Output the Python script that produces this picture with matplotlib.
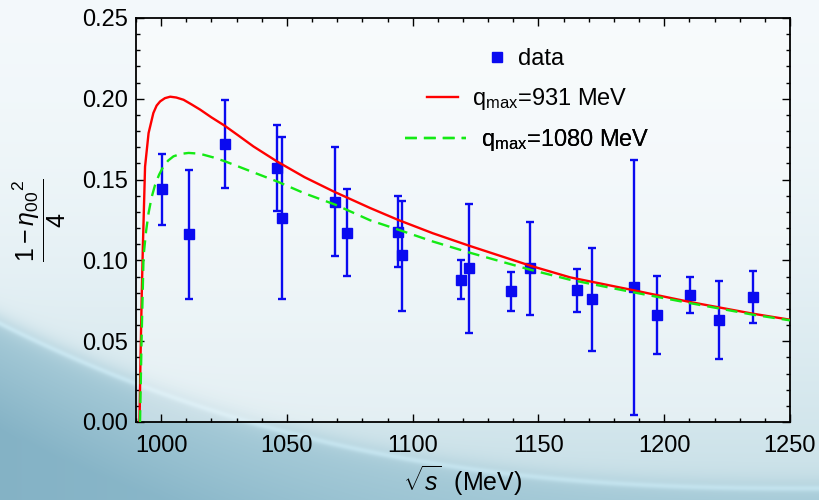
import numpy as np
import matplotlib.pyplot as plt
import matplotlib as mpl
from matplotlib.lines import Line2D
from matplotlib.ticker import MultipleLocator, FormatStrFormatter

mpl.rcParams['font.family'] = 'Liberation Sans'
mpl.rcParams['mathtext.fontset'] = 'custom'
mpl.rcParams['mathtext.rm'] = 'Liberation Sans'
mpl.rcParams['mathtext.it'] = 'Liberation Sans:italic'
mpl.rcParams['mathtext.sf'] = 'Liberation Sans'

# measured points: sqrt(s) in MeV, (1 - eta00^2)/4 and the ends of the error bars
sqrt_s = [1000.4, 1011.0, 1025.2, 1046.0, 1048.0, 1069.2, 1073.9, 1094.3, 1095.7, 1119.1,
          1122.4, 1139.1, 1146.8, 1165.2, 1171.2, 1187.9, 1197.3, 1210.1, 1221.8, 1235.3]
ratio = [0.1442, 0.1163, 0.1718, 0.1569, 0.1260, 0.1361, 0.1170, 0.1173, 0.1033, 0.0876,
         0.0950, 0.0808, 0.0953, 0.0814, 0.0759, 0.0837, 0.0660, 0.0783, 0.0631, 0.0771]
bar_lo = [0.1219, 0.0761, 0.1448, 0.1303, 0.0761, 0.1025, 0.0901, 0.0957, 0.0689, 0.0761,
          0.0551, 0.0689, 0.0660, 0.0683, 0.0440, 0.0043, 0.0423, 0.0675, 0.0390, 0.0614]
bar_hi = [0.1658, 0.1559, 0.1994, 0.1838, 0.1761, 0.1704, 0.1442, 0.1396, 0.1369, 0.1000,
          0.1349, 0.0928, 0.1238, 0.0947, 0.1079, 0.1621, 0.0901, 0.0899, 0.0870, 0.0934]

# model curves
red_x = [991.4, 991.8, 992.3, 992.7, 993.6, 995.0, 996.9, 998.2, 999.6, 1001.5, 1003.6,
         1006.0, 1008.9, 1012.0, 1015.5, 1020.0, 1025.2, 1030.5, 1036.7, 1046.0, 1057.0,
         1068.5, 1083.1, 1094.3, 1108.0, 1122.4, 1146.8, 1162.6, 1187.9, 1210.1, 1235.3,
         1250.0]
red_y = [0.0, 0.040, 0.080, 0.1066, 0.1580, 0.1788, 0.1912, 0.1958, 0.1984, 0.2004, 0.2013,
         0.2008, 0.1994, 0.1966, 0.1933, 0.1885, 0.1834, 0.1775, 0.1705, 0.1613, 0.1515,
         0.1427, 0.1324, 0.1250, 0.1168, 0.1091, 0.0967, 0.0895, 0.0815, 0.0743, 0.0670,
         0.0633]
green_x = [991.6, 992.2, 993.0, 994.0, 995.0, 996.2, 997.6, 999.2, 1000.9, 1002.8, 1004.9,
           1007.8, 1010.9, 1013.8, 1016.8, 1020.8, 1025.4, 1035.0, 1046.0, 1057.0, 1069.2,
           1083.1, 1094.3, 1108.0, 1122.4, 1146.8, 1162.6, 1187.9, 1210.1, 1235.3, 1250.0]
green_y = [0.0, 0.050, 0.1025, 0.1180, 0.1293, 0.1390, 0.1468, 0.1531, 0.1582, 0.1618, 0.1644,
           0.1659, 0.1665, 0.1662, 0.1654, 0.1637, 0.1613, 0.1555, 0.1489, 0.1415, 0.1345,
           0.1248, 0.1190, 0.1117, 0.1049, 0.0942, 0.0880, 0.0802, 0.0736, 0.0664, 0.0629]

blue = '#0a0af0'
red = '#ff0000'
green = '#14ea14'

fig = plt.figure(figsize=(8.19, 5.0), dpi=100)

# slide style backdrop
H, W = 500, 819
yy, xx = np.mgrid[0:H, 0:W]
u = xx / (W - 1)
v = yy / (H - 1)
top = np.array([0.955, 0.975, 0.985])
mid = np.array([0.78, 0.875, 0.905])
low = np.array([0.66, 0.80, 0.85])
deep_l = np.array([0.52, 0.70, 0.775])
deep_r = np.array([0.60, 0.775, 0.835])
bound = 0.64 + 0.33 * (1 - (1 - u) ** 2.5)
base = top + (mid - top) * (v ** 1.8)[..., None]
deep = deep_l + (deep_r - deep_l) * u[..., None]
below = low + (deep - low) * np.clip((v - bound) / 0.22, 0, 1)[..., None]
s = 1 / (1 + np.exp(-(v - bound) / 0.012))
img = base * (1 - s[..., None]) + below * s[..., None]
streak = 0.06 * np.exp(-((v - bound - 0.008) / 0.006) ** 2)
img = np.clip(img + streak[..., None], 0, 1)

bg = fig.add_axes([0, 0, 1, 1], zorder=-1)
bg.imshow(img, aspect='auto', interpolation='bilinear')
bg.axis('off')

ax = fig.add_axes([136 / 819, 78 / 500, 654 / 819, 404 / 500])
ax.set_facecolor((1, 1, 1, 0.4))

ratio_a = np.array(ratio)
yerr = [ratio_a - np.array(bar_lo), np.array(bar_hi) - ratio_a]
ax.errorbar(sqrt_s, ratio, yerr=yerr, fmt='s', color=blue, ms=7, lw=1.7,
            capsize=2.7, capthick=1.7, zorder=2)
ax.plot(red_x, red_y, color=red, lw=1.7, zorder=3)
ax.plot(green_x, green_y, color=green, lw=1.7, dashes=(5, 3), zorder=3)

ax.set_xlim(990, 1250)
ax.set_ylim(0, 0.25)
ax.xaxis.set_major_locator(MultipleLocator(50))
ax.xaxis.set_minor_locator(MultipleLocator(10))
ax.yaxis.set_major_locator(MultipleLocator(0.05))
ax.yaxis.set_minor_locator(MultipleLocator(0.01))
ax.yaxis.set_major_formatter(FormatStrFormatter('%.2f'))
ax.tick_params(which='both', direction='in', top=True, right=True, width=1.0,
               labelsize=17, color='black')
ax.tick_params(axis='x', which='major', length=5.5, pad=9)
ax.tick_params(axis='y', which='major', length=5.5, pad=6)
ax.tick_params(which='minor', length=3)
for sp in ax.spines.values():
    sp.set_linewidth(1.3)

ax.set_xlabel(r'$\sqrt{s}$  (MeV)', fontsize=18, labelpad=5)
ax.set_ylabel(r'$\dfrac{1-\eta_{00}{}^{2}}{4}$', fontsize=18, labelpad=10)

# legend entries, each one centred on its own row
entries = [
    (Line2D([], [], ls='none', marker='s', ms=7, color=blue), 'data', 0.6, 0.898),
    (Line2D([], [], color=red, lw=1.7), r'q$_{\rm max}$=931 MeV', 1.3, 0.80),
    (Line2D([], [], color=green, lw=1.7, dashes=(5, 3)), r'q$_{\rm max}$=1080 MeV', 2.6, 0.698),
]
for handle, text, hl, ypos in entries:
    leg = ax.legend([handle], [text], loc='center', bbox_to_anchor=(0.598, ypos),
                    frameon=False, fontsize=17, handlelength=hl, handletextpad=0.6,
                    borderpad=0, borderaxespad=0)
    ax.add_artist(leg)

plt.savefig('out.png', dpi=100)
